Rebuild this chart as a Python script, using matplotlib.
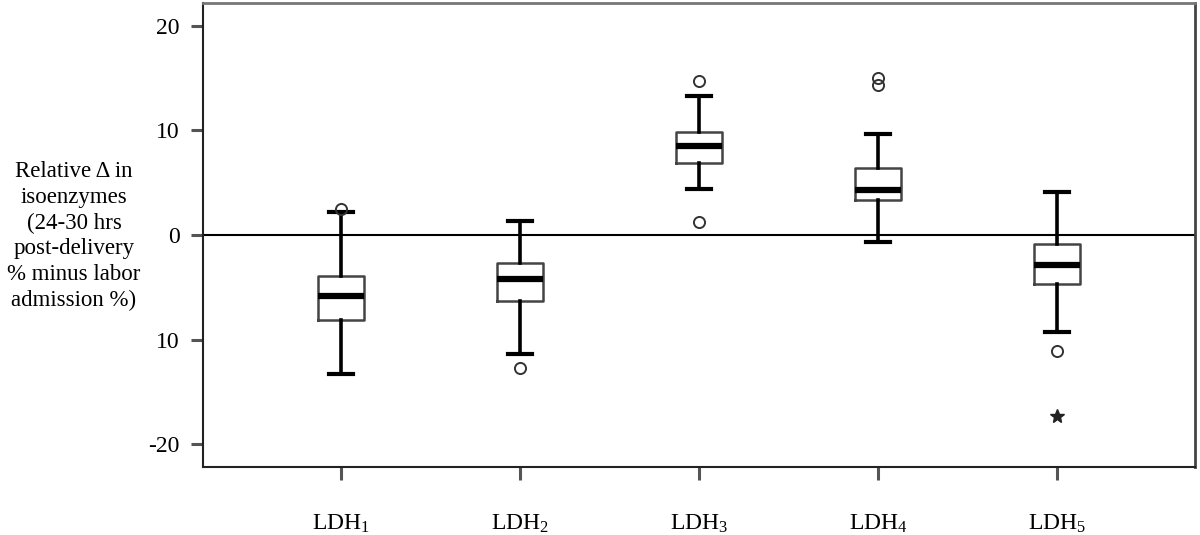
import numpy as np
import matplotlib
matplotlib.use('Agg')
import matplotlib.pyplot as plt

plt.rcParams['font.family'] = ['Liberation Serif', 'DejaVu Serif']
plt.rcParams['mathtext.fontset'] = 'custom'
plt.rcParams['mathtext.rm'] = 'Liberation Serif'
plt.rcParams['mathtext.default'] = 'regular'

# values
labels = ['LDH$_1$', 'LDH$_2$', 'LDH$_3$', 'LDH$_4$', 'LDH$_5$']
whislo = [-13.3, -11.4, 4.4, -0.7, -9.25]
q1 = [-8.1, -6.3, 6.9, 3.35, -4.7]
med = [-5.8, -4.2, 8.5, 4.3, -2.9]
q3 = [-3.9, -2.65, 9.9, 6.4, -0.86]
whishi = [2.2, 1.3, 13.3, 9.7, 4.15]
outliers = [[2.5], [-12.7], [14.7, 1.2], [15.0, 14.4], [-11.1]]
extremes = [[], [], [], [], [-17.3]]

yticks = [20, 10, 0, -10, -20]
yticklabels = ['20', '10', '0', '10', '-20']

fig = plt.figure(figsize=(12, 5.35), dpi=100)
ax = fig.add_axes([203/1200, 1-467/535, (1195-203)/1200, (467-3)/535])

pos = np.arange(1, len(labels)+1)
stats = []
for i in range(len(labels)):
  stats.append(dict(med=med[i], q1=q1[i], q3=q3[i], whislo=whislo[i],
                    whishi=whishi[i], fliers=[]))

ax.bxp(stats, positions=pos, widths=0.26, capwidths=0.135, showfliers=False,
       boxprops=dict(color='#444444', lw=1.8),
       medianprops=dict(color='black', lw=4.5, solid_capstyle='butt'),
       whiskerprops=dict(color='black', lw=2.6),
       capprops=dict(color='black', lw=3))

for i in range(len(labels)):
  if outliers[i]:
    ax.plot([pos[i]]*len(outliers[i]), outliers[i], 'o', ms=8, mfc='none',
            mec='#333333', mew=1.4, zorder=4)
  if extremes[i]:
    ax.plot([pos[i]]*len(extremes[i]), extremes[i], '*', ms=10, color='#222222',
            zorder=4)

ax.axhline(0, color='black', lw=1.5, zorder=1)

ax.set_xlim(0.23, 5.77)
ax.set_ylim(-22.2, 22.2)
ax.set_yticks(yticks)
ax.set_yticklabels(yticklabels)
ax.set_xticks(pos)
ax.set_xticklabels(labels)
ax.tick_params(axis='y', length=9, width=2.2, color='#555555', pad=8, labelsize=17)
ax.tick_params(axis='x', length=9, width=2.2, color='#555555', pad=24, labelsize=17)

ax.spines['top'].set_color('#777777')
ax.spines['top'].set_linewidth(2)
ax.spines['right'].set_color('#444444')
ax.spines['right'].set_linewidth(2)
ax.spines['left'].set_color('#222222')
ax.spines['left'].set_linewidth(1.5)
ax.spines['bottom'].set_color('#222222')
ax.spines['bottom'].set_linewidth(1.5)

fig.text(74/1200, 1-236/535,
         'Relative \u0394 in\nisoenzymes\n(24-30 hrs\npost-delivery\n% minus labor\nadmission %)',
         ha='center', va='center', fontsize=16.5, linespacing=1.3)

fig.savefig('out.png', dpi=100)
